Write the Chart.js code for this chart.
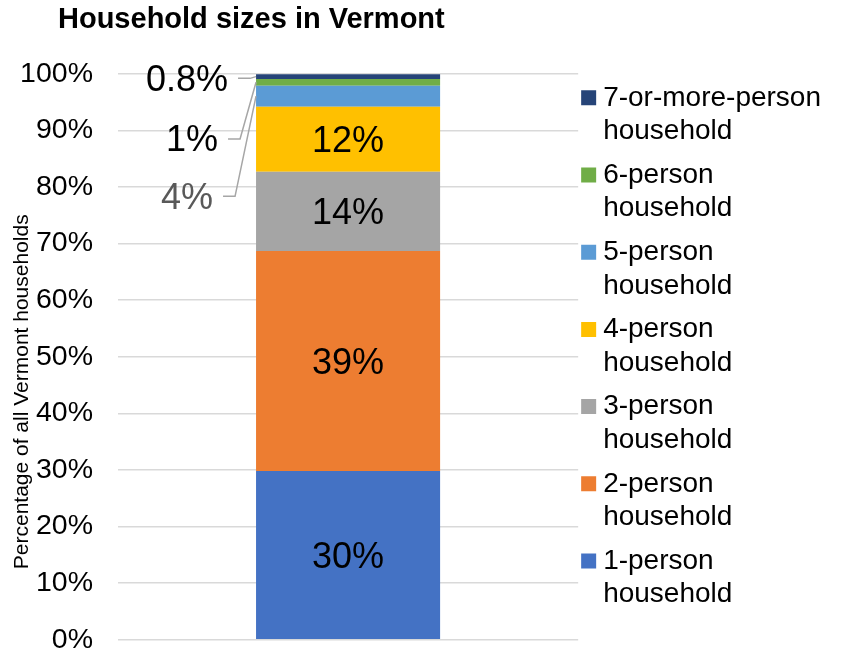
<!DOCTYPE html>
<html>
<head>
<meta charset="utf-8">
<script src="https://cdn.jsdelivr.net/npm/chart.js@4/dist/chart.umd.min.js"></script>
<style>
  html, body { margin: 0; padding: 0; background: #ffffff; }
  canvas { display: block; }
</style>
</head>
<body>
<canvas id="c" width="844" height="654"></canvas>
<script>
// ---- Data ----
const categories = ['Vermont'];
const seriesNames = [
  '1-person household',
  '2-person household',
  '3-person household',
  '4-person household',
  '5-person household',
  '6-person household',
  '7-or-more-person household'
];
const shareValues = [29.8, 38.9, 14.0, 11.5, 3.7, 1.2, 0.8];
const seriesColors = ['#4472C4', '#ED7D31', '#A5A5A5', '#FFC000', '#5B9BD5', '#70AD47', '#264478'];
const yTickValues = [0, 10, 20, 30, 40, 50, 60, 70, 80, 90, 100];
const chartTitle = 'Household sizes in Vermont';
const yAxisTitle = 'Percentage of all Vermont households';

function fmtPct(v) {
  return v < 1 ? v.toFixed(1) + '%' : Math.round(v) + '%';
}

// Callout labels for the thin top segments (y position in scale units, px gap to bar)
const calloutPlacement = {
  4: { at: 77.9, gap: 43, color: '#595959' },
  5: { at: 88.05, gap: 38, color: '#000000' },
  6: { at: 98.75, gap: 28, color: '#000000' }
};

const dataLabelPlugin = {
  id: 'dataLabels',
  afterDatasetsDraw(chart) {
    const ctx = chart.ctx;
    const yScale = chart.scales.y;
    ctx.save();
    ctx.font = '36px "Liberation Sans", Arial, sans-serif';
    ctx.textBaseline = 'middle';
    chart.data.datasets.forEach((ds, i) => {
      const meta = chart.getDatasetMeta(i);
      meta.data.forEach((el, j) => {
        const v = ds.data[j];
        const text = fmtPct(v);
        const cy = (el.y + el.base) / 2;
        const left = el.x - el.width / 2;
        const place = calloutPlacement[i];
        if (!place) {
          ctx.fillStyle = '#000000';
          ctx.textAlign = 'center';
          ctx.fillText(text, el.x, cy + 3);
        } else {
          const ty = yScale.getPixelForValue(place.at);
          const tRight = left - place.gap;
          ctx.fillStyle = place.color;
          ctx.textAlign = 'right';
          ctx.fillText(text, tRight, ty);
          ctx.strokeStyle = '#A6A6A6';
          ctx.lineWidth = 1.5;
          ctx.beginPath();
          ctx.moveTo(tRight + 10, ty - 2.5);
          ctx.lineTo(tRight + 22, ty - 2.5);
          ctx.lineTo(left, cy);
          ctx.stroke();
        }
      });
    });
    ctx.restore();
  }
};

// Let the right-hand legend take the width its two-line labels need
const legendWidthPlugin = {
  id: 'legendWidth',
  beforeLayout(chart) {
    const lg = chart.legend;
    if (lg && !lg.__wide) {
      const origFit = lg.fit;
      lg.fit = function () {
        this.maxWidth = Math.max(this.maxWidth, 300);
        origFit.call(this);
      };
      lg.__wide = true;
    }
  }
};

const datasets = seriesNames.map((name, i) => ({
  label: name,
  data: [shareValues[i]],
  backgroundColor: seriesColors[i],
  borderWidth: 0,
  barPercentage: 0.4,
  categoryPercentage: 1.0
}));

new Chart(document.getElementById('c'), {
  type: 'bar',
  data: { labels: categories, datasets: datasets },
  plugins: [legendWidthPlugin, dataLabelPlugin],
  options: {
    responsive: false,
    animation: false,
    devicePixelRatio: 1,
    font: { family: '"Liberation Sans", Arial, sans-serif' },
    layout: { padding: { left: 0, right: 13, top: 0, bottom: 14 } },
    plugins: {
      title: {
        display: true,
        text: '\u2002\u2002\u2002\u2002' + chartTitle,
        align: 'start',
        color: '#000000',
        font: { size: 29, weight: 'bold', family: '"Liberation Sans", Arial, sans-serif' },
        padding: { top: 3, bottom: 36 }
      },
      legend: {
        display: true,
        position: 'right',
        align: 'start',
        fullSize: false,
        labels: {
          usePointStyle: true,
          boxWidth: 1,
          boxHeight: 15,
          padding: 10,
          color: '#000000',
          font: { size: 28, family: '"Liberation Sans", Arial, sans-serif' },
          generateLabels(chart) {
            return chart.data.datasets.map((ds, i) => ({
              text: ds.label.split(' '),
              fillStyle: ds.backgroundColor,
              strokeStyle: ds.backgroundColor,
              lineWidth: 0,
              pointStyle: 'rect',
              fontColor: '#000000',
              hidden: false,
              datasetIndex: i
            })).reverse();
          }
        }
      },
      tooltip: { enabled: false }
    },
    scales: {
      x: { stacked: true, display: false },
      y: {
        stacked: true,
        min: 0,
        max: 100,
        afterBuildTicks(scale) {
          scale.ticks = yTickValues.map(v => ({ value: v }));
        },
        ticks: {
          callback: (v) => v + '%',
          color: '#000000',
          padding: 0,
          font: { size: 28.5, lineHeight: 1, family: '"Liberation Sans", Arial, sans-serif' }
        },
        grid: { color: '#D9D9D9', lineWidth: 1.5, drawTicks: true, tickLength: 25, tickColor: 'rgba(0,0,0,0)' },
        border: { display: false },
        title: {
          display: true,
          text: yAxisTitle + '            ',
          color: '#000000',
          font: { size: 21, family: '"Liberation Sans", Arial, sans-serif' },
          padding: { top: 9.5, bottom: -14.6 }
        }
      }
    }
  }
});
</script>
</body>
</html>
